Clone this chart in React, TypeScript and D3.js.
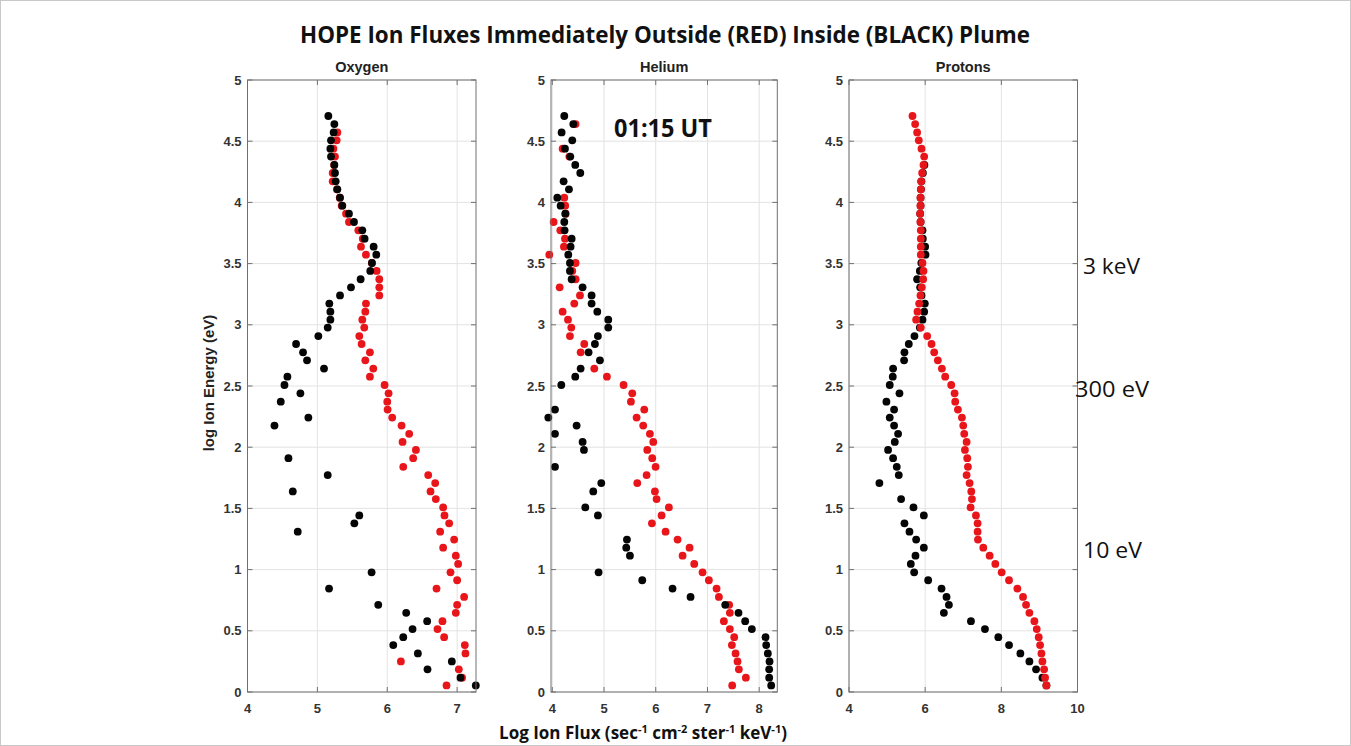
import React from "react";
import * as d3 from "d3";

// ---------- DATA: [log flux, log energy] ----------
const OXYGEN_INSIDE: [number, number][] = [
  [5.157,4.706],[5.243,4.64],[5.233,4.572],[5.195,4.507],[5.186,4.439],[5.195,4.374],[5.243,4.306],[5.252,4.24],[5.262,4.172],[5.286,4.107],[5.324,4.039],[5.357,3.973],[5.452,3.908],[5.524,3.84],[5.643,3.772],[5.676,3.704],[5.805,3.638],[5.843,3.573],[5.781,3.505],[5.757,3.44],[5.619,3.372],[5.481,3.306],[5.324,3.24],[5.171,3.173],[5.186,3.107],[5.186,3.042],[5.148,2.977],[5.014,2.908],[4.695,2.843],[4.795,2.775],[4.852,2.71],[5.095,2.642],[4.571,2.576],[4.529,2.508],[4.757,2.44],[4.476,2.372],[4.871,2.242],[4.386,2.177],[4.586,1.91],[5.148,1.772],[4.648,1.639],[5.6,1.443],[5.529,1.378],[4.719,1.31],[5.776,0.978],[5.167,0.845],[5.871,0.712],[6.271,0.647],[6.571,0.579],[6.362,0.514],[6.229,0.448],[6.086,0.383],[6.438,0.315],[6.924,0.25],[6.576,0.185],[7.048,0.117],[7.267,0.054]
];
const OXYGEN_OUTSIDE: [number, number][] = [
  [5.286,4.572],[5.276,4.507],[5.229,4.439],[5.252,4.374],[5.24,4.306],[5.219,4.24],[5.219,4.172],[5.28,4.107],[5.32,4.039],[5.348,3.973],[5.41,3.908],[5.452,3.84],[5.586,3.772],[5.65,3.704],[5.624,3.638],[5.695,3.573],[5.78,3.505],[5.848,3.44],[5.886,3.372],[5.886,3.306],[5.886,3.24],[5.695,3.173],[5.686,3.107],[5.643,3.042],[5.671,2.977],[5.6,2.908],[5.633,2.843],[5.752,2.775],[5.686,2.71],[5.8,2.642],[5.752,2.576],[5.962,2.508],[6.019,2.44],[6.0,2.372],[6.005,2.307],[6.071,2.242],[6.205,2.177],[6.314,2.109],[6.219,2.043],[6.41,1.978],[6.371,1.91],[6.229,1.84],[6.586,1.772],[6.686,1.707],[6.619,1.639],[6.695,1.576],[6.8,1.508],[6.819,1.443],[6.886,1.378],[6.757,1.31],[6.957,1.245],[6.8,1.179],[6.981,1.114],[7.014,1.046],[6.905,0.978],[7.0,0.913],[6.705,0.845],[7.1,0.777],[7.0,0.712],[6.981,0.647],[6.79,0.579],[6.719,0.514],[6.814,0.448],[7.11,0.383],[7.119,0.315],[6.195,0.25],[7.024,0.185],[7.071,0.117],[6.848,0.054]
];
const HELIUM_INSIDE: [number, number][] = [
  [4.232,4.706],[4.406,4.64],[4.18,4.572],[4.386,4.507],[4.245,4.439],[4.348,4.374],[4.444,4.306],[4.541,4.24],[4.219,4.172],[4.322,4.107],[4.097,4.039],[4.161,3.973],[4.25,3.908],[4.232,3.84],[4.238,3.772],[4.374,3.704],[4.354,3.638],[4.309,3.573],[4.341,3.505],[4.341,3.44],[4.374,3.372],[4.586,3.306],[4.76,3.24],[4.76,3.173],[4.87,3.107],[5.082,3.042],[5.082,2.977],[4.882,2.908],[4.824,2.843],[4.702,2.775],[4.921,2.71],[4.548,2.642],[4.444,2.576],[4.174,2.508],[4.052,2.307],[3.923,2.242],[4.47,2.177],[4.052,2.109],[4.586,2.043],[4.612,1.978],[4.052,1.84],[4.947,1.707],[4.792,1.639],[4.638,1.508],[4.882,1.443],[5.443,1.245],[5.43,1.179],[5.501,1.114],[4.895,0.978],[5.739,0.913],[6.325,0.845],[6.673,0.777],[7.343,0.712],[7.6,0.647],[7.729,0.579],[7.858,0.514],[8.122,0.448],[8.135,0.383],[8.167,0.315],[8.2,0.25],[8.193,0.185],[8.193,0.117],[8.232,0.054]
];
const HELIUM_OUTSIDE: [number, number][] = [
  [4.45,4.64],[4.2,4.439],[4.33,4.374],[4.232,4.039],[4.25,3.973],[4.26,3.908],[4.026,3.84],[4.155,3.772],[4.245,3.704],[4.225,3.638],[3.942,3.573],[4.451,3.505],[4.386,3.44],[4.451,3.372],[4.142,3.306],[4.535,3.24],[4.425,3.173],[4.2,3.107],[4.303,3.042],[4.367,2.977],[4.341,2.908],[4.618,2.843],[4.548,2.775],[4.812,2.642],[5.056,2.576],[5.378,2.508],[5.546,2.44],[5.52,2.372],[5.778,2.307],[5.63,2.242],[5.758,2.177],[5.887,2.109],[5.952,2.043],[5.836,1.978],[5.932,1.91],[5.997,1.84],[5.823,1.772],[5.643,1.707],[5.984,1.639],[6.016,1.576],[6.254,1.508],[6.113,1.443],[5.926,1.378],[6.19,1.31],[6.422,1.245],[6.654,1.179],[6.519,1.114],[6.744,1.046],[6.905,0.978],[7.027,0.913],[7.176,0.845],[7.221,0.777],[7.42,0.712],[7.433,0.647],[7.317,0.579],[7.433,0.514],[7.517,0.448],[7.472,0.383],[7.543,0.315],[7.581,0.25],[7.607,0.185],[7.742,0.117],[7.478,0.054]
];
const PROTONS_INSIDE: [number, number][] = [
  [5.98,4.306],[5.94,4.24],[5.9,4.172],[5.89,4.107],[5.88,4.039],[5.88,3.973],[5.87,3.908],[5.88,3.84],[5.93,3.772],[5.939,3.704],[6.0,3.638],[6.009,3.573],[5.9,3.505],[5.86,3.44],[5.789,3.372],[5.868,3.306],[5.904,3.24],[5.991,3.173],[5.974,3.107],[5.93,3.042],[5.86,2.977],[5.719,2.908],[5.57,2.843],[5.456,2.775],[5.447,2.71],[5.158,2.642],[5.149,2.576],[5.07,2.508],[5.325,2.44],[4.982,2.372],[5.184,2.307],[5.07,2.242],[5.184,2.177],[5.289,2.109],[5.202,2.043],[5.026,1.978],[5.158,1.91],[5.254,1.84],[5.307,1.772],[4.798,1.707],[5.368,1.576],[5.693,1.508],[5.965,1.443],[5.456,1.378],[5.588,1.31],[5.763,1.245],[5.965,1.179],[5.746,1.114],[5.623,1.046],[5.711,0.978],[6.079,0.913],[6.43,0.845],[6.561,0.777],[6.623,0.712],[6.491,0.647],[7.202,0.579],[7.57,0.514],[7.921,0.448],[8.202,0.383],[8.5,0.315],[8.737,0.25],[8.912,0.185],[9.079,0.117],[9.184,0.054]
];
const PROTONS_OUTSIDE: [number, number][] = [
  [5.667,4.706],[5.737,4.64],[5.789,4.572],[5.833,4.507],[5.904,4.439],[5.974,4.374],[5.956,4.306],[5.921,4.24],[5.895,4.172],[5.886,4.107],[5.877,4.039],[5.877,3.973],[5.868,3.908],[5.877,3.84],[5.886,3.772],[5.886,3.704],[5.886,3.638],[5.886,3.573],[5.93,3.505],[5.956,3.44],[5.947,3.372],[5.912,3.306],[5.877,3.24],[5.842,3.173],[5.798,3.107],[5.763,3.042],[5.886,2.977],[6.053,2.908],[6.167,2.843],[6.237,2.775],[6.333,2.71],[6.439,2.642],[6.526,2.576],[6.684,2.508],[6.772,2.44],[6.789,2.372],[6.86,2.307],[6.965,2.242],[7.0,2.177],[7.026,2.109],[7.088,2.043],[7.044,1.978],[7.105,1.91],[7.123,1.84],[7.088,1.772],[7.167,1.707],[7.211,1.639],[7.228,1.576],[7.193,1.508],[7.333,1.443],[7.377,1.378],[7.377,1.31],[7.386,1.245],[7.526,1.179],[7.693,1.114],[7.842,1.046],[8.009,0.978],[8.202,0.913],[8.421,0.845],[8.57,0.777],[8.649,0.712],[8.737,0.647],[8.868,0.579],[8.93,0.514],[8.982,0.448],[9.018,0.383],[9.053,0.315],[9.079,0.25],[9.123,0.185],[9.149,0.117],[9.184,0.054]
];

const PANEL_TITLES = ["Oxygen", "Helium", "Protons"];
const X_DOMAINS: [number, number][] = [[4, 7.27], [3.975, 8.35], [4, 10]];
const X_TICKS = [[4, 5, 6, 7], [4, 5, 6, 7, 8], [4, 6, 8, 10]];
const Y_DOMAIN: [number, number] = [0, 5];
const Y_TICKS = [0, 0.5, 1, 1.5, 2, 2.5, 3, 3.5, 4, 4.5, 5];
const ENERGY_NOTES = ["3 keV", "300 eV", "10 eV"];

const TITLE = "HOPE Ion Fluxes Immediately Outside (RED) Inside (BLACK) Plume";
const TIME_LABEL = "01:15 UT";

// ---------- LAYOUT ----------
const W = 1351, H = 746;
const TOP = 80, BOTTOM = 692;
const PANEL_X: [number, number][] = [[247.5, 476], [551, 777.3], [849, 1077.5]];
const RED = "#e8161b";
const BLACK = "#050505";
const R = 3.9;
const FONT = "'Liberation Sans', Arial, sans-serif";
const FONT2 = "'Open Sans', 'Liberation Sans', sans-serif";

type Series = { data: [number, number][]; color: string };
const PANEL_SERIES: Series[][] = [
  [{ data: OXYGEN_OUTSIDE, color: RED }, { data: OXYGEN_INSIDE, color: BLACK }],
  [{ data: HELIUM_OUTSIDE, color: RED }, { data: HELIUM_INSIDE, color: BLACK }],
  [{ data: PROTONS_INSIDE, color: BLACK }, { data: PROTONS_OUTSIDE, color: RED }],
];

function Panel({ idx }: { idx: number }) {
  const [x0, x1] = PANEL_X[idx];
  const x = d3.scaleLinear().domain(X_DOMAINS[idx]).range([x0, x1]);
  const y = d3.scaleLinear().domain(Y_DOMAIN).range([BOTTOM, TOP]);
  const tk = 5;
  const frame = "#707070";
  return (
    <g>
      <rect x={x0} y={TOP} width={x1 - x0} height={BOTTOM - TOP} fill="#fff" />
      {Y_TICKS.map((t) => (
        <line key={"gy" + t} x1={x0} x2={x1} y1={y(t)} y2={y(t)} stroke="#e3e3e3" strokeWidth={1} />
      ))}
      {X_TICKS[idx].map((t) => (
        <line key={"gx" + t} x1={x(t)} x2={x(t)} y1={TOP} y2={BOTTOM} stroke="#e3e3e3" strokeWidth={1} />
      ))}
      {PANEL_SERIES[idx].map((s, si) => (
        <g key={si}>
          {s.data.map((d, i) => (
            <circle key={i} cx={x(d[0])} cy={y(d[1])} r={R} fill={s.color} />
          ))}
        </g>
      ))}
      <rect x={x0} y={TOP} width={x1 - x0} height={BOTTOM - TOP} fill="none" stroke={frame} strokeWidth={1} />
      {Y_TICKS.map((t) => (
        <g key={"ty" + t}>
          <line x1={x0} x2={x0 + tk} y1={y(t)} y2={y(t)} stroke={frame} />
          <line x1={x1} x2={x1 - tk} y1={y(t)} y2={y(t)} stroke={frame} />
          <text x={x0 - 6} y={y(t)} dy="0.35em" textAnchor="end" fontFamily={FONT} fontWeight="bold" fontSize={13} fill="#333">
            {t}
          </text>
        </g>
      ))}
      {X_TICKS[idx].map((t) => (
        <g key={"tx" + t}>
          <line x1={x(t)} x2={x(t)} y1={BOTTOM} y2={BOTTOM - tk} stroke={frame} />
          <line x1={x(t)} x2={x(t)} y1={TOP} y2={TOP + tk} stroke={frame} />
          <text x={x(t)} y={BOTTOM + 21} textAnchor="middle" fontFamily={FONT} fontWeight="bold" fontSize={13} fill="#333">
            {t}
          </text>
        </g>
      ))}
      <text x={(x0 + x1) / 2} y={TOP - 8} textAnchor="middle" fontFamily={FONT} fontWeight="bold" fontSize={14.5} fill="#222">
        {PANEL_TITLES[idx]}
      </text>
    </g>
  );
}

export default function App() {
  return (
    <svg width={W} height={H} style={{ position: "absolute", left: 0, top: 0, background: "#fff" }}>
      <rect x={0.5} y={0.5} width={W - 1} height={H - 1} fill="#fff" stroke="#c8c8c8" />
      <text x={665} y={43} textAnchor="middle" fontFamily={FONT2} fontWeight="bold" fontSize={23} fill="#111"
        textLength={730} lengthAdjust="spacingAndGlyphs">
        {TITLE}
      </text>
      {[0, 1, 2].map((i) => <Panel key={i} idx={i} />)}
      <text x={614} y={137} fontFamily={FONT2} fontWeight="bold" fontSize={25} fill="#111"
        textLength={98} lengthAdjust="spacingAndGlyphs">
        {TIME_LABEL}
      </text>
      <text transform={`translate(214,${383}) rotate(-90)`} textAnchor="middle" fontFamily={FONT} fontWeight="bold" fontSize={15} fill="#222">
        log Ion Energy (eV)
      </text>
      <text x={643} y={739} textAnchor="middle" fontFamily={FONT2} fontWeight="bold" fontSize={17} fill="#111">
        Log Ion Flux (sec<tspan dy={-6} fontSize={11}>-1</tspan><tspan dy={6}> cm</tspan><tspan dy={-6} fontSize={11}>-2</tspan><tspan dy={6}> ster</tspan><tspan dy={-6} fontSize={11}>-1</tspan><tspan dy={6}> keV</tspan><tspan dy={-6} fontSize={11}>-1</tspan><tspan dy={6}>)</tspan>
      </text>
      <text x={1083} y={274} fontFamily={FONT2} fontSize={21} fill="#111" textLength={57} lengthAdjust="spacingAndGlyphs">{ENERGY_NOTES[0]}</text>
      <text x={1075} y={397} fontFamily={FONT2} fontSize={21} fill="#111" textLength={74} lengthAdjust="spacingAndGlyphs">{ENERGY_NOTES[1]}</text>
      <text x={1083} y={558} fontFamily={FONT2} fontSize={21} fill="#111" textLength={59} lengthAdjust="spacingAndGlyphs">{ENERGY_NOTES[2]}</text>
    </svg>
  );
}
